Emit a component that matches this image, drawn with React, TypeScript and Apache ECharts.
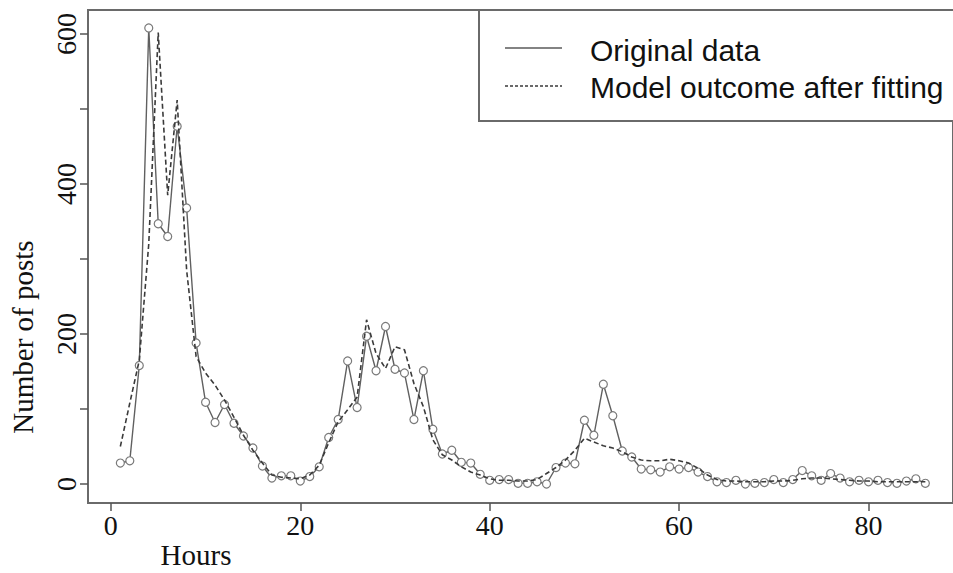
import React, { useEffect, useRef } from "react";
import * as echarts from "echarts";

const hours: number[] = Array.from({ length: 86 }, (_, i) => i + 1);

const originalData: number[] = [
  28, 31, 158, 608, 347, 330, 477, 368, 188, 109,
  82, 106, 81, 64, 48, 24, 8, 11, 11, 4,
  10, 23, 62, 86, 164, 102, 197, 151, 210, 153,
  148, 86, 151, 73, 40, 45, 29, 28, 13, 5,
  6, 6, 1, 1, 3, 0, 22, 28, 27, 85,
  65, 133, 91, 44, 36, 20, 19, 16, 23, 20,
  22, 16, 10, 3, 2, 5, 0, 1, 2, 6,
  2, 6, 18, 11, 5, 14, 8, 3, 5, 3,
  5, 2, 1, 4, 7, 1,
];

const modelData: number[] = [
  50, 108, 165, 320, 602, 385, 512, 285, 170, 148,
  132, 112, 89, 65, 45, 28, 12, 9, 8, 7,
  12, 25, 55, 83, 99, 116, 219, 174, 154, 183,
  179, 134, 103, 59, 39, 32, 23, 16, 12, 7,
  5, 5, 4, 4, 6, 14, 22, 32, 45, 61,
  56, 51, 48, 43, 36, 32, 31, 31, 33, 31,
  28, 21, 12, 6, 4, 4, 3, 3, 3, 4,
  4, 5, 7, 8, 8, 7, 6, 5, 4, 4,
  3, 3, 3, 3, 3, 3,
];

const xTicks: number[] = [0, 20, 40, 60, 80];
const yTicks: number[] = [0, 100, 200, 300, 400, 500, 600];
const yLabels: number[] = [0, 200, 400, 600];

const seriesNames: string[] = ["Original data", "Model outcome after fitting"];
const xTitle = "Hours";
const yTitle = "Number of posts";

const SERIF = "'Liberation Serif', 'Times New Roman', serif";
const SANS = "'Liberation Sans', Arial, sans-serif";

export default function App() {
  const ref = useRef<HTMLDivElement>(null);

  useEffect(() => {
    if (!ref.current) return;
    const chart = echarts.init(ref.current, undefined, { renderer: "svg" });
    const option: any = {
      animation: false,
      backgroundColor: "#ffffff",
      grid: {
        left: 88,
        top: 10,
        right: -5,
        bottom: 70,
        show: true,
        borderColor: "#6a6a6a",
        borderWidth: 2,
        backgroundColor: "transparent",
      },
      xAxis: {
        type: "value",
        min: -2.415,
        max: 88.92,
        axisLine: { show: false, onZero: false },
        splitLine: { show: false },
        axisTick: {
          show: true,
          customValues: xTicks,
          length: 8,
          inside: false,
          lineStyle: { color: "#555", width: 1.5 },
        },
        axisLabel: {
          customValues: xTicks,
          margin: 8,
          fontFamily: SERIF,
          fontSize: 28,
          color: "#111",
        },
      },
      yAxis: {
        type: "value",
        min: -25.3,
        max: 632,
        axisLine: { show: false, onZero: false },
        splitLine: { show: false },
        axisTick: {
          show: true,
          customValues: yTicks,
          length: 8,
          inside: false,
          lineStyle: { color: "#555", width: 1.5 },
        },
        axisLabel: {
          customValues: yLabels,
          rotate: 90,
          margin: 8,
          fontFamily: SERIF,
          fontSize: 28,
          color: "#111",
        },
      },
      series: [
        {
          name: seriesNames[0],
          type: "line",
          data: hours.map((h, i) => [h, originalData[i]]),
          symbol: "circle",
          symbolSize: 8,
          showSymbol: true,
          lineStyle: { color: "#606060", width: 1.4, type: "solid" },
          itemStyle: { color: "#ffffff", borderColor: "#7a7a7a", borderWidth: 1.2 },
          z: 3,
        },
        {
          name: seriesNames[1],
          type: "line",
          data: hours.map((h, i) => [h, modelData[i]]),
          showSymbol: false,
          symbol: "none",
          lineStyle: { color: "#3a3a3a", width: 1.6, type: [5, 3] },
          z: 4,
        },
      ],
      graphic: [
        {
          type: "rect",
          z: 100,
          shape: { x: 479, y: 10, width: 500, height: 111 },
          style: { fill: "#ffffff", stroke: "#6a6a6a", lineWidth: 2 },
        },
        {
          type: "line",
          z: 101,
          shape: { x1: 505, y1: 48, x2: 562, y2: 48 },
          style: { stroke: "#5a5a5a", lineWidth: 1.5 },
        },
        {
          type: "line",
          z: 101,
          shape: { x1: 505, y1: 86, x2: 562, y2: 86 },
          style: { stroke: "#3a3a3a", lineWidth: 1.5, lineDash: [3, 2] },
        },
        {
          type: "text",
          z: 101,
          x: 590,
          y: 50,
          style: {
            text: seriesNames[0],
            font: `30px ${SANS}`,
            fill: "#111",
            textAlign: "left",
            verticalAlign: "middle",
          },
        },
        {
          type: "text",
          z: 101,
          x: 590,
          y: 87,
          style: {
            text: seriesNames[1],
            font: `30px ${SANS}`,
            fill: "#111",
            textAlign: "left",
            verticalAlign: "middle",
          },
        },
        {
          type: "text",
          z: 101,
          x: 196,
          y: 555,
          style: {
            text: xTitle,
            font: `29px ${SERIF}`,
            fill: "#111",
            textAlign: "center",
            verticalAlign: "middle",
          },
        },
        {
          type: "text",
          z: 101,
          x: 23,
          y: 337,
          rotation: Math.PI / 2,
          style: {
            text: yTitle,
            font: `29px ${SERIF}`,
            fill: "#111",
            textAlign: "center",
            verticalAlign: "middle",
          },
        },
      ],
    };
    chart.setOption(option);
    return () => chart.dispose();
  }, []);

  return (
    <div
      ref={ref}
      style={{ position: "fixed", left: 0, top: 0, width: 953, height: 573, background: "#fff" }}
    />
  );
}
